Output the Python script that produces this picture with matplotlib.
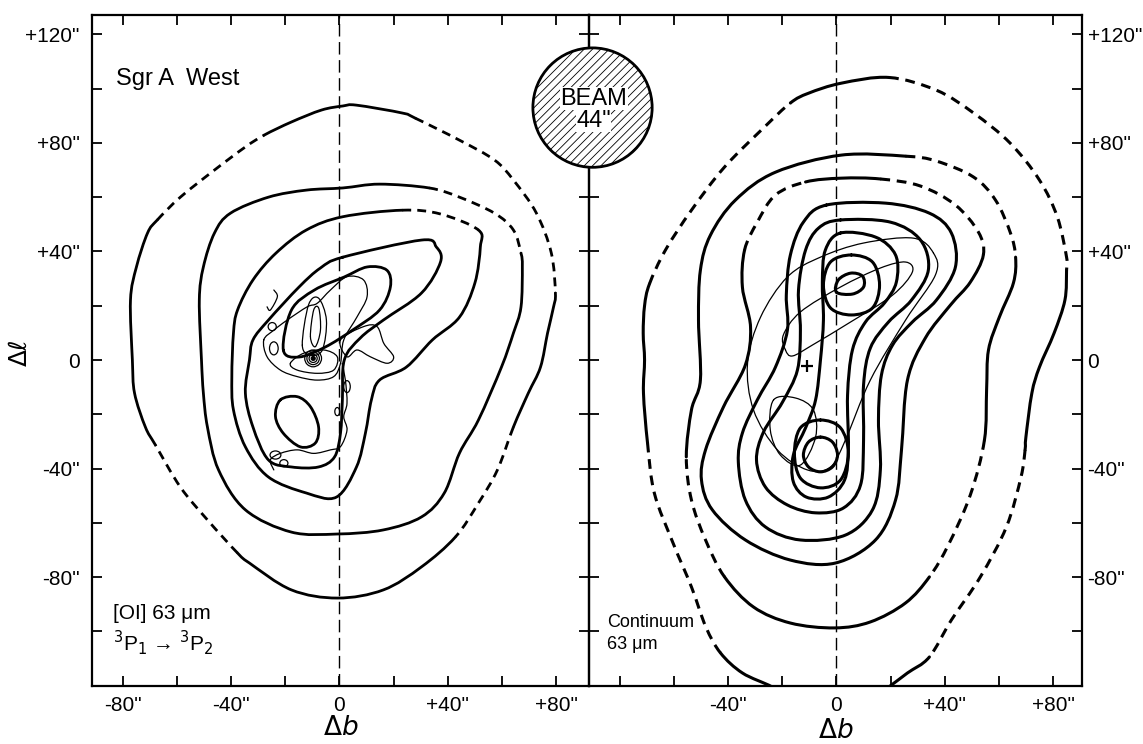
import numpy as np
import matplotlib
matplotlib.use("Agg")
import matplotlib.pyplot as plt
from matplotlib.path import Path
from matplotlib.patches import PathPatch, Circle, Ellipse

# ====================== DATA (offsets in arcsec: (Δb, Δℓ)) ======================
# ---- Left panel: [OI] 63 µm contours (bold) ----
OI_C1 = [(1.3, 93.6), (6.3, 93.9), (23.2, 91.0), (28.0, 89.1), (44.3, 81.0), (57.2, 73.7),
         (64.2, 66.3), (72.7, 54.1), (78.2, 39.4), (79.7, 24.7), (79.0, 19.5), (76.8, 9.9),
         (74.2, -2.6), (69.7, -12.2), (64.2, -24.7), (58.3, -40.5), (51.3, -52.7), (42.8, -65.2),
         (30.3, -76.2), (16.2, -84.7), (-0.7, -87.7), (-17.7, -84.7), (-33.2, -74.8), (-37.6, -71.1),
         (-48.7, -58.9), (-58.7, -46.8), (-67.9, -31.3), (-71.6, -24.7), (-75.6, -12.2), (-76.4, 0.0),
         (-77.1, 22.1), (-74.9, 34.3), (-70.8, 46.8), (-67.2, 51.6), (-58.7, 60.0), (-46.1, 70.0),
         (-34.7, 78.5), (-27.7, 82.9), (-17.7, 87.7), (-6.6, 92.1)]
OI_C2 = [(1.3, 63.4), (14.8, 64.8), (33.1, 63.4), (44.3, 60.0), (57.2, 54.1), (64.2, 47.9),
         (67.0, 39.4), (67.5, 34.3), (67.0, 19.5), (64.2, 9.9), (59.8, -2.6), (51.3, -22.1),
         (44.3, -34.3), (38.7, -49.0), (30.3, -57.8), (16.2, -62.6), (-0.7, -64.1), (-17.7, -63.4),
         (-34.7, -55.2), (-44.6, -40.5), (-48.7, -24.7), (-50.2, -12.2), (-50.9, 0.0), (-51.7, 22.1),
         (-50.2, 34.3), (-46.1, 46.8), (-40.2, 54.1), (-26.2, 60.0), (-12.2, 62.6)]
OI_C3 = [(1.3, 52.8), (23.2, 55.2), (37.3, 53.8), (51.3, 47.9), (52.0, 41.6), (50.0, 28.4),
         (44.3, 15.8), (34.3, 7.4), (24.7, -2.6), (14.8, -7.4), (11.8, -14.7), (9.6, -26.9),
         (6.3, -39.4), (-1.1, -50.5), (-12.2, -49.0), (-26.2, -43.1), (-34.7, -32.0), (-39.1, -18.4),
         (-39.7, -6.3), (-39.1, 9.9), (-37.6, 18.4), (-31.9, 29.5), (-23.4, 39.4), (-12.2, 47.9)]
OI_C4 = [(1.3, 37.9), (30.3, 44.2), (35.8, 41.6), (37.3, 36.1), (30.3, 24.7), (16.2, 14.7),
         (7.7, 8.1), (1.8, 0.0), (1.1, -14.7), (0.4, -26.9), (-1.8, -35.7), (-7.7, -39.4),
         (-17.7, -39.4), (-26.2, -36.8), (-31.9, -24.7), (-34.7, -12.2), (-33.2, 0.0), (-31.9, 7.4),
         (-26.2, 14.7), (-14.9, 26.9), (-7.0, 33.9)]
OI_C5 = [(-20.7, 3.7), (-17.7, 18.4), (-9.2, 25.8), (1.8, 30.6), (10.3, 34.3), (17.5, 33.1),
         (18.8, 26.9), (14.8, 18.4), (4.8, 11.0), (-5.2, 4.8), (-14.9, 1.1)]
OI_C6 = [(-21.8, -14.7), (-15.6, -13.5), (-10.7, -17.2), (-7.7, -24.6), (-8.9, -30.6),
         (-14.4, -32.0), (-20.7, -27.0), (-23.6, -20.8)]

# ---- Left panel: high-resolution overlay (thin) ----
HR_T1 = [(-27.9, 7.4), (-24.2, 11.0), (-19.3, 14.7), (-11.9, 19.6), (-8.2, 20.9), (-3.3, 25.8),
         (2.8, 30.7), (8.9, 29.5), (10.2, 23.3), (6.5, 15.9), (1.6, 7.4), (0.4, -1.2),
         (-2.1, -6.1), (-8.2, -7.4), (-15.6, -6.1), (-21.8, -3.7), (-26.7, 1.2)]
HR_T2 = [(-18.1, -1.2), (-13.2, 2.5), (-5.8, 3.7), (-0.8, 1.2), (-2.1, -3.7), (-8.2, -4.9), (-15.6, -3.7)]
HR_T3A = [(-10.7, 8.6), (-9.5, 18.4), (-7.6, 19.0), (-7.0, 11.0), (-8.9, 4.9)]
HR_T3B = [(-13.7, 5.5), (-11.4, 20.3), (-7.7, 22.8), (-4.8, 14.7), (-6.3, 3.7), (-10.7, 1.8)]
HR_T4 = [(0.4, 7.4), (8.9, 12.3), (13.9, 12.3), (16.4, 6.1), (20.0, 1.2), (17.6, -1.2),
         (11.4, 1.2), (6.5, 3.7), (2.8, 1.2)]
HR_T5 = [(1.0, -1.2), (2.2, -7.4), (2.8, -15.9), (1.6, -20.9), (2.8, -25.8), (0.4, -31.9),
         (-3.3, -33.1), (-9.5, -34.4), (-15.6, -33.1), (-21.8, -34.4), (-25.5, -36.8), (-24.2, -40.5)]
HR_T6 = [(-24.2, 25.8), (-22.9, 23.3), (-25.5, 18.4), (-26.7, 19.6)]
HR_RING_CENTER = (-9.7, 0.6)
HR_RING_RADII = [0.7, 1.5, 2.3, 3.1]
HR_BLOB_B = [2.8, -0.8, -24.8, -24.2, -23.6, -20.5]
HR_BLOB_L = [-9.8, -19.0, 12.3, 4.3, -35.0, -38.0]
HR_BLOB_W = [2.4, 1.8, 3.0, 3.2, 4.0, 3.0]
HR_BLOB_H = [4.4, 3.0, 3.0, 4.8, 3.0, 2.6]

# ---- Right panel: continuum 63 µm contours (bold) ----
CT_C1 = [(-17.0, -125.2), (-23.8, -120.4), (-34.7, -115.3), (-42.8, -107.9), (-48.2, -98.3),
         (-53.5, -83.6), (-60.3, -67.4), (-67.2, -49.0), (-69.7, -30.6), (-71.2, -12.2),
         (-70.8, 0.0), (-71.3, 9.9), (-70.8, 20.0), (-69.0, 28.0), (-63.1, 40.5), (-53.5, 55.2),
         (-41.3, 71.1), (-26.6, 85.8), (-17.0, 94.7), (-10.3, 98.3), (1.8, 102.0), (19.4, 104.1),
         (36.9, 99.4), (50.6, 91.0), (64.1, 79.9), (74.9, 66.3), (81.5, 52.7), (84.9, 37.9),
         (84.9, 33.1), (84.3, 22.1), (80.3, 9.9), (74.9, -2.6), (72.1, -12.2), (69.9, -28.4),
         (69.6, -33.1), (68.1, -43.1), (62.7, -61.5), (53.1, -79.9), (42.4, -95.8), (34.3, -109.4),
         (26.2, -115.3), (19.4, -120.4), (12.5, -125.2)]
CT_C2 = [(-50.2, -7.4), (-50.9, 14.7), (-50.2, 33.1), (-46.5, 46.0), (-37.3, 58.9), (-22.5, 69.2),
         (1.8, 75.5), (25.5, 75.1), (36.9, 73.3), (50.6, 67.4), (58.7, 58.9), (64.2, 46.8),
         (66.1, 37.9), (65.3, 28.4), (60.1, 15.8), (56.1, 3.7), (55.4, -11.0), (54.6, -29.5),
         (49.4, -49.7), (41.3, -68.1), (34.3, -79.9), (25.5, -89.5), (12.5, -96.5), (-0.7, -98.7),
         (-17.0, -96.9), (-30.6, -91.0), (-41.3, -79.9), (-48.3, -66.3), (-53.5, -51.6),
         (-55.4, -35.7), (-53.5, -18.4)]
CT_C3 = [(-33.9, 40.5), (-29.2, 50.8), (-22.5, 60.8), (-11.4, 65.6), (1.8, 67.0), (16.2, 66.7),
         (31.0, 64.1), (43.9, 57.1), (52.4, 47.1), (54.2, 38.7), (49.4, 28.7), (42.1, 20.3),
         (32.8, 8.1), (26.2, -7.4), (24.0, -33.1), (21.8, -51.6), (14.4, -66.3), (-0.4, -74.8),
         (-17.0, -73.7), (-33.6, -66.3), (-45.8, -55.2), (-49.8, -44.2), (-48.3, -33.1),
         (-41.7, -17.3), (-33.6, -1.8), (-31.7, 12.2), (-34.7, 26.9)]
CT_C4 = [(-3.7, 57.1), (18.1, 57.8), (34.3, 54.1), (42.4, 46.8), (43.9, 34.3), (36.9, 22.1),
         (28.0, 14.0), (20.7, 5.5), (16.6, -5.5), (15.5, -22.1), (16.2, -40.5), (13.3, -55.2),
         (3.3, -64.5), (-13.3, -66.3), (-26.2, -61.5), (-33.6, -51.6), (-36.2, -37.6),
         (-34.7, -26.9), (-29.2, -14.7), (-22.5, -2.6), (-18.1, 11.0), (-18.5, 23.9),
         (-17.0, 38.7), (-12.2, 50.8)]
CT_C5 = [(1.5, 51.6), (19.9, 50.8), (31.0, 44.2), (33.9, 33.1), (27.7, 22.1), (19.2, 14.0),
         (12.5, 4.4), (10.0, -9.2), (10.0, -29.5), (8.9, -46.0), (2.6, -54.5), (-7.7, -56.3),
         (-18.1, -53.4), (-26.2, -46.8), (-29.5, -36.8), (-26.9, -26.5), (-19.9, -15.5),
         (-14.4, -3.7), (-13.3, 11.0), (-14.0, 25.8), (-11.4, 40.5), (-6.6, 48.6)]
CT_C6 = [(1.5, 46.8), (14.4, 45.3), (21.8, 38.7), (22.1, 28.7), (17.7, 21.0), (10.7, 14.0),
         (5.9, 3.7), (4.1, -12.9), (4.4, -32.4), (3.0, -44.2), (-3.0, -50.5), (-11.1, -50.5),
         (-15.9, -44.9), (-15.9, -35.0), (-11.4, -25.0), (-7.7, -14.7), (-5.9, 0.0), (-4.8, 14.7),
         (-5.2, 28.7), (-4.1, 40.5)]
CT_N1 = [(5.5, 38.7), (13.3, 36.1), (15.9, 27.6), (13.3, 19.2), (5.5, 16.6), (-2.2, 19.2),
         (-4.8, 27.6), (-2.2, 36.1)]
CT_N2 = [(0.0, 25.0), (0.7, 29.5), (5.2, 32.0), (9.6, 30.9), (10.0, 26.9), (5.9, 24.3)]
CT_S1 = [(-5.9, -22.1), (1.5, -25.0), (4.4, -34.3), (1.5, -44.2), (-5.9, -47.1), (-13.3, -43.5),
         (-15.5, -34.3), (-13.3, -25.0)]
CT_S2 = [(-5.9, -28.4), (-1.5, -30.2), (0.4, -35.0), (-1.5, -39.4), (-5.9, -41.2), (-10.3, -39.4),
         (-12.2, -35.0), (-10.3, -30.2)]
# ---- Right panel: thin [OI] overlay ellipses ----
OV_E1 = [(35.8, 39.4), (28.4, 44.9), (10.0, 43.1), (-5.9, 37.9), (-18.1, 30.6), (-28.0, 15.8),
         (-32.8, -1.1), (-30.6, -18.4), (-21.8, -33.1), (-10.7, -40.5), (-2.2, -39.4), (3.3, -29.5),
         (12.5, -7.4), (25.5, 14.7), (36.5, 31.3)]
OV_E2 = [(-18.8, 3.7), (-19.6, 9.2), (-13.3, 17.7), (1.5, 26.9), (16.2, 33.9), (25.5, 36.1),
         (28.0, 32.4), (20.7, 23.9), (5.2, 14.0), (-8.9, 5.5), (-16.2, 1.5)]
OV_E3 = [(-23.2, -14.7), (-15.1, -14.0), (-8.5, -18.4), (-7.7, -28.4), (-13.3, -38.7),
         (-20.7, -35.0), (-24.4, -25.8)]
CENTER_MARK = (-10.7, -2.2)

# Beam
BEAM_CENTER = (-90.0, 93.0)
BEAM_DIAMETER = 44.0

# Axis ticks / labels
X_TICKS = list(range(-80, 81, 20))
Y_TICKS = list(range(-100, 121, 20))
LEFT_X_LABELED = [-80, -40, 0, 40, 80]
RIGHT_X_LABELED = [-40, 0, 40, 80]
Y_LABELED = [-80, -40, 0, 40, 80, 120]

# ====================== STYLE ======================
DASHED = {
    "OI_C1": [(3, 9), (14, 17), (23, 26), (33, 37)],
    "OI_C2": [(2, 6)],
    "OI_C3": [(1, 3)],
    "CT_C1": [(3, 8), (13, 18), (21, 28), (34, 39)],
    "CT_C2": [(7, 12), (17, 20), (26, 29)],
    "CT_C3": [(0, 3), (5, 9)],
}
XLIM_L = (-91.3, 92.1)
XLIM_R = (-91.3, 90.6)
YLIM = (-120.1, 127.3)
plt.rcParams["font.family"] = ["Liberation Sans", "DejaVu Sans"]
plt.rcParams["mathtext.fontset"] = "dejavusans"
plt.rcParams["hatch.linewidth"] = 0.6


def fmt(v):
    if v == 0:
        return "0"
    return ('+%d"' % v) if v > 0 else ('-%d"' % -v)


def bez(P, segs, closed):
    n = len(P)
    verts = [P[segs[0] % n]]
    codes = [Path.MOVETO]
    for i in segs:
        p1 = P[i % n]
        p2 = P[(i + 1) % n]
        if closed:
            p0 = P[(i - 1) % n]
            p3 = P[(i + 2) % n]
        else:
            p0 = P[i - 1] if i > 0 else p1
            p3 = P[i + 2] if i + 2 < n else p2
        c1 = p1 + (p2 - p0) / 6.0
        c2 = p2 - (p3 - p1) / 6.0
        verts += [c1, c2, p2]
        codes += [Path.CURVE4] * 3
    return Path(verts, codes)


def contour(ax, pts, lw, dashed=(), closed=True, dash=(3.2, 2.2), z=3):
    P = np.asarray(pts, dtype=float)
    n = len(P)
    nseg = n if closed else n - 1
    flag = np.zeros(nseg, bool)
    for a, b in dashed:
        flag[a:b] = True
    groups = []
    cur = [0]
    for i in range(1, nseg):
        if flag[i] == flag[cur[-1]]:
            cur.append(i)
        else:
            groups.append(cur)
            cur = [i]
    groups.append(cur)
    if closed and len(groups) > 1 and flag[groups[0][0]] == flag[groups[-1][0]]:
        groups[0] = groups[-1] + groups[0]
        groups.pop()
    for g in groups:
        d = flag[g[0]]
        patch = PathPatch(bez(P, g, closed), fill=False, lw=lw, color="black",
                          linestyle=(0, dash) if d else "-",
                          capstyle="butt" if d else "round", joinstyle="round", zorder=z)
        ax.add_patch(patch)


fig = plt.figure(figsize=(11.43, 7.44), dpi=100)
axL = fig.add_axes([92 / 1143, 58 / 744, 497 / 1143, 671.5 / 744])
axR = fig.add_axes([589 / 1143, 58 / 744, 493 / 1143, 671.5 / 744])

for ax, xl in ((axL, XLIM_L), (axR, XLIM_R)):
    ax.set_xlim(*xl)
    ax.set_ylim(*YLIM)
    for s in ax.spines.values():
        s.set_linewidth(1.6)
    ax.set_xticks(X_TICKS)
    ax.set_yticks(Y_TICKS)
    ax.tick_params(axis="both", which="both", direction="in", length=7.5, width=1.3,
                   labelsize=15, pad=7, top=True, colors="black")
    ax.axvline(0, color="black", lw=1.0, ls=(0, (9, 4)), zorder=2)

# left panel axes
axL.set_xticklabels([fmt(v) if v in LEFT_X_LABELED else "" for v in X_TICKS])
axL.set_yticklabels([fmt(v) if v in Y_LABELED else "" for v in Y_TICKS])
axL.tick_params(axis="y", left=True, right=False, pad=9)
axL.spines["right"].set_visible(False)
axL.set_xlabel(r"$\Delta\mathit{b}$", fontsize=19, labelpad=1)
fig.text(20 / 1143, 1 - 352 / 744, "Δℓ", rotation=90, fontsize=18, ha="center", va="center",
         family=["DejaVu Sans"])

# right panel axes
axR.set_xticklabels([fmt(v) if v in RIGHT_X_LABELED else "" for v in X_TICKS])
axR.yaxis.tick_right()
axR.tick_params(axis="y", left=False, right=True, labelleft=False, labelright=True, pad=4)
axR.set_yticklabels([fmt(v) if v in Y_LABELED else "" for v in Y_TICKS])
axR.set_xlabel(r"$\Delta\mathit{b}$", fontsize=19, labelpad=3)
# crosses on the shared divider
sec = axR.secondary_yaxis("left")
sec.set_yticks(Y_TICKS)
sec.set_yticklabels([])
sec.tick_params(direction="inout", length=14, width=1.3)
sec.spines["left"].set_linewidth(1.6)

# ---------------- left panel contours ----------------
LW_B = 2.0
contour(axL, OI_C1, LW_B, DASHED["OI_C1"])
contour(axL, OI_C2, LW_B, DASHED["OI_C2"])
contour(axL, OI_C3, LW_B, DASHED["OI_C3"])
contour(axL, OI_C4, LW_B)
contour(axL, OI_C5, LW_B)
contour(axL, OI_C6, LW_B)
LW_T = 0.9
for c in (HR_T1, HR_T2, HR_T3A, HR_T3B, HR_T4):
    contour(axL, c, LW_T)
for c in (HR_T5, HR_T6):
    contour(axL, c, LW_T, closed=False)
for r in HR_RING_RADII:
    axL.add_patch(Circle(HR_RING_CENTER, r, fill=False, lw=0.9, color="black", zorder=3))
axL.plot(*HR_RING_CENTER, marker="o", ms=2, color="black")
for b, l, w, h in zip(HR_BLOB_B, HR_BLOB_L, HR_BLOB_W, HR_BLOB_H):
    axL.add_patch(Ellipse((b, l), w, h, fill=False, lw=0.9, color="black", zorder=3))

axL.text(-82.5, 101.5, "Sgr A  West", fontsize=17, ha="left", va="baseline")
axL.text(-83.5, -95.5, "[OI] 63 μm", fontsize=15, ha="left", va="baseline")
axL.text(-83.5, -107.0, r"$^{3}$P$_{1}$ → $^{3}$P$_{2}$", fontsize=15, ha="left", va="baseline")

# ---------------- right panel contours ----------------
LW_R = 2.2
contour(axR, CT_C1, LW_R, DASHED["CT_C1"], closed=False)
contour(axR, CT_C2, LW_R, DASHED["CT_C2"])
contour(axR, CT_C3, LW_R, DASHED["CT_C3"])
for c in (CT_C4, CT_C5, CT_C6, CT_N1, CT_N2, CT_S1, CT_S2):
    contour(axR, c, LW_R)
for c in (OV_E1, OV_E2, OV_E3):
    contour(axR, c, 0.9)
axR.plot(*CENTER_MARK, marker="+", ms=8, mew=1.6, color="black", zorder=4)

axR.text(-84.5, -98.3, "Continuum", fontsize=13, ha="left", va="baseline")
axR.text(-84.5, -106.5, "63 μm", fontsize=13, ha="left", va="baseline")

# beam
beam = Circle(BEAM_CENTER, BEAM_DIAMETER / 2, facecolor="white", edgecolor="black",
              lw=2.0, hatch="////", clip_on=False, zorder=6)
axR.add_patch(beam)
axR.text(BEAM_CENTER[0] + 0.5, BEAM_CENTER[1] + 3.3, "BEAM", fontsize=17, ha="center",
         va="center", zorder=7, clip_on=False,
         bbox=dict(fc="white", ec="none", pad=0.2))
axR.text(BEAM_CENTER[0] + 0.5, BEAM_CENTER[1] - 4.8, '44"', fontsize=17, ha="center",
         va="center", zorder=7, clip_on=False,
         bbox=dict(fc="white", ec="none", pad=0.2))

fig.savefig("out.png", dpi=100)
